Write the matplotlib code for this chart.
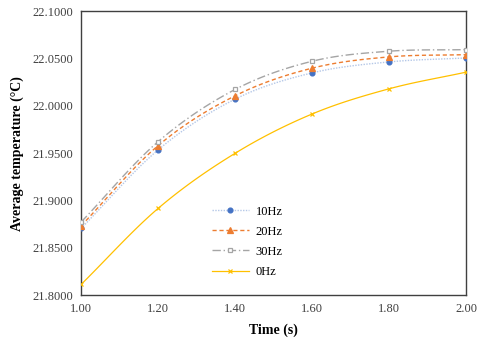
import numpy as np
import matplotlib
matplotlib.use("Agg")
import matplotlib.pyplot as plt

time = [1.0, 1.2, 1.4, 1.6, 1.8, 2.0]
hz10 = [21.8705, 21.9534, 22.0070, 22.0347, 22.0463, 22.0505]
hz20 = [21.8733, 21.9579, 22.0105, 22.0397, 22.0516, 22.0540]
hz30 = [21.8772, 21.9621, 22.0172, 22.0470, 22.0576, 22.0593]
hz0 = [21.8113, 21.8916, 21.9498, 21.9913, 22.0179, 22.0355]
labels = ["10Hz", "20Hz", "30Hz", "0Hz"]
xticks = [1.0, 1.2, 1.4, 1.6, 1.8, 2.0]
yticks = [21.80, 21.85, 21.90, 21.95, 22.00, 22.05, 22.10]

plt.rcParams['font.family'] = ['Liberation Serif', 'DejaVu Serif']


def smooth(x, y, n=20):
    # Catmull-Rom rendering of a smoothed line through the points
    x = np.asarray(x, float); y = np.asarray(y, float)
    px = np.concatenate([[2 * x[0] - x[1]], x, [2 * x[-1] - x[-2]]])
    py = np.concatenate([[2 * y[0] - y[1]], y, [2 * y[-1] - y[-2]]])
    xs, ys = [], []
    for i in range(1, len(px) - 2):
        t = np.linspace(0, 1, n, endpoint=False)
        for arr, out in ((px, xs), (py, ys)):
            p0, p1, p2, p3 = arr[i - 1], arr[i], arr[i + 1], arr[i + 2]
            out.extend(0.5 * ((2 * p1) + (-p0 + p2) * t +
                              (2 * p0 - 5 * p1 + 4 * p2 - p3) * t ** 2 +
                              (-p0 + 3 * p1 - 3 * p2 + p3) * t ** 3))
    xs.append(x[-1]); ys.append(y[-1])
    return np.array(xs), np.array(ys)


fig = plt.figure(figsize=(4.8, 3.46), dpi=100)
ax = fig.add_axes([0.169, 0.147, 0.802, 0.821])

styles = [
    dict(data=hz10, color="#B4C7E7", ls=(0, (1, 1)), lw=1.0, marker="o", mfc="#4472C4", mec="#4472C4", ms=3.5),
    dict(data=hz20, color="#ED7D31", ls=(0, (3, 2)), lw=1.0, marker="^", mfc="#ED7D31", mec="#ED7D31", ms=4.5),
    dict(data=hz30, color="#A5A5A5", ls=(0, (6, 2, 1, 2)), lw=1.0, marker="s", mfc="white", mec="#A5A5A5", ms=3.5),
    dict(data=hz0, color="#FFC000", ls="-", lw=0.9, marker="x", mfc="#FFC000", mec="#FFC000", ms=3.5),
]
handles = []
for st, lab in zip(styles, labels):
    sx, sy = smooth(time, st["data"])
    ax.plot(sx, sy, color=st["color"], ls=st["ls"], lw=st["lw"], zorder=2)
    ax.plot(time, st["data"], ls="none", marker=st["marker"], mfc=st["mfc"],
            mec=st["mec"], ms=st["ms"], mew=0.9, zorder=3)
    h, = ax.plot([], [], color=st["color"], ls=st["ls"], lw=st["lw"], marker=st["marker"],
                 mfc=st["mfc"], mec=st["mec"], ms=st["ms"], mew=0.9)
    handles.append(h)

ax.set_xlim(1.0, 2.0)
ax.set_ylim(21.8, 22.1)
ax.set_xticks(xticks)
ax.set_xticklabels([f"{v:.2f}" for v in xticks])
ax.set_yticks(yticks)
ax.set_yticklabels([f"{v:.4f}" for v in yticks])
ax.tick_params(length=0, labelsize=9, colors="#404040", pad=6)
for s in ax.spines.values():
    s.set_color("#404040")
    s.set_linewidth(1.0)

ax.set_xlabel("Time (s)", fontsize=10, fontweight="bold", labelpad=6)
ax.set_ylabel("Average temperature (°C)", fontsize=10, fontweight="bold", labelpad=6)

leg = ax.legend(handles, labels, loc="upper left", bbox_to_anchor=(0.31, 0.355),
                frameon=False, fontsize=9, handlelength=3.0, labelspacing=0.65,
                handletextpad=0.5)

fig.savefig("out.png", dpi=100)
